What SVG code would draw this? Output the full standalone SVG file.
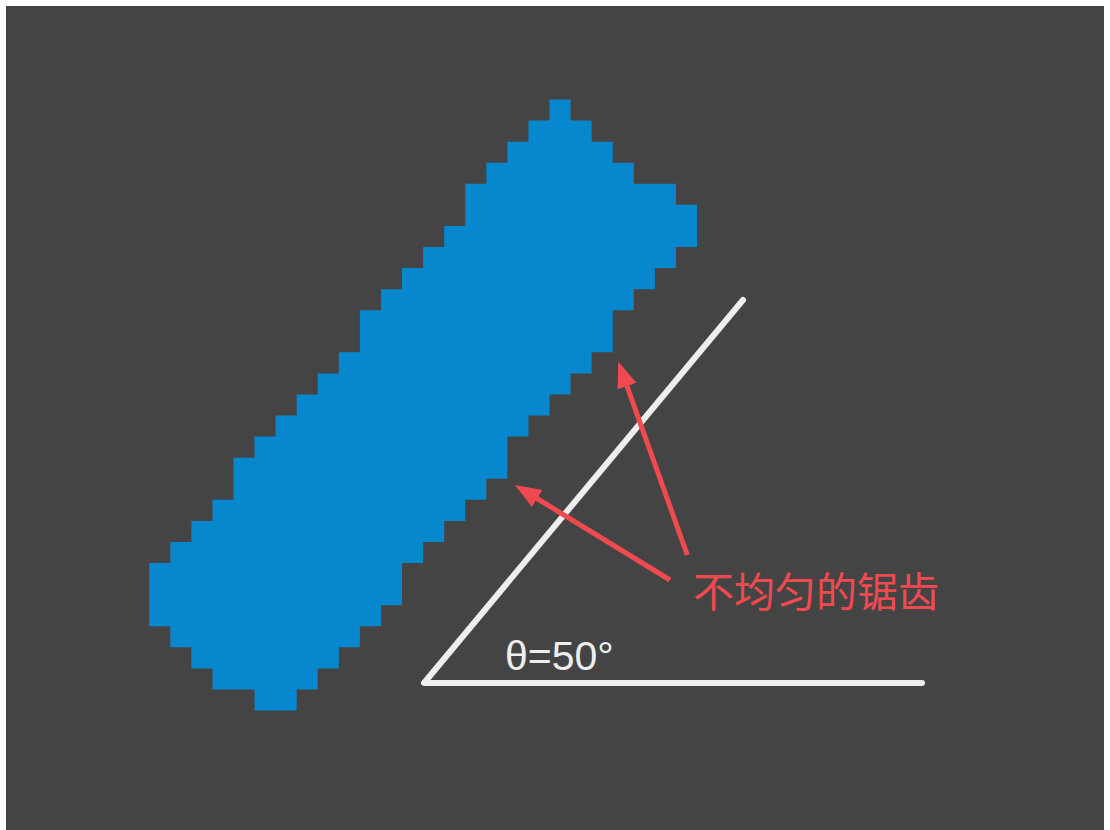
<svg xmlns="http://www.w3.org/2000/svg" width="1110" height="830" viewBox="0 0 1110 830">
  <style>
    .panel { fill: #444444; }
    .pixels { fill: #0787cd; }
    .axis { fill: none; stroke: #eeeeee; stroke-width: 6; stroke-linecap: round; stroke-linejoin: round; }
    .arrow { fill: none; stroke: #f04a50; stroke-width: 5; stroke-linecap: butt; }
    .angle-label { font-family: "Liberation Sans", Arial, sans-serif; font-size: 41px; fill: #eeeeee; }
    .note { font-family: "Noto Sans CJK SC", "Noto Sans", sans-serif; font-size: 41px; fill: #f04a50; }
  </style>
  <defs>
    <marker id="head" markerUnits="userSpaceOnUse" markerWidth="30" markerHeight="22" refX="6" refY="10" orient="auto">
      <path d="M0,0 L26,10 L0,20 Z" fill="#f04a50"/>
    </marker>
  </defs>

  <g id="background">
    <rect x="0" y="0" width="1110" height="830" fill="#ffffff"/>
    <rect class="panel" x="6" y="6" width="1098" height="824"/>
  </g>

  <g id="pixel-bar">
    <path class="pixels" transform="translate(149.2,99.5) scale(21.07)"
      d="M19,0 H20 V1 H21 V2 H22 V3 H23 V4 H25 V5 H26 V7 H25 V8 H24 V9 H23 V10 H22 V12 H21 V13 H20 V14 H19 V15 H18 V16 H17 V18 H16 V19 H15 V20 H14 V21 H13 V22 H12 V24 H11 V25 H10 V26 H9 V27 H8 V28 H7 V29 H5 V28 H3 V27 H2 V26 H1 V25 H0 V22 H1 V21 H2 V20 H3 V19 H4 V17 H5 V16 H6 V15 H7 V14 H8 V13 H9 V12 H10 V10 H11 V9 H12 V8 H13 V7 H14 V6 H15 V4 H16 V3 H17 V2 H18 V1 H19 Z"/>
  </g>

  <g id="angle">
    <polyline class="axis" points="743,300 424,683 922,683"/>
    <text class="angle-label" x="505" y="670">θ=50°</text>
  </g>

  <g id="connectors">
    <line class="arrow" x1="687.3" y1="555" x2="625" y2="380.5" marker-end="url(#head)"/>
    <line class="arrow" x1="670" y1="580" x2="532.1" y2="495.5" marker-end="url(#head)"/>
  </g>

  <g id="label">
    <text class="note" x="693" y="607">不均匀的锯齿</text>
  </g>
</svg>
